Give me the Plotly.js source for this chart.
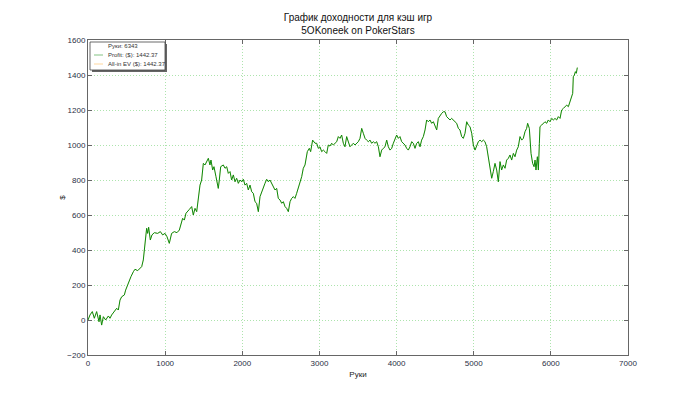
<!DOCTYPE html>
<html>
<head>
<meta charset="utf-8">
<script src="https://cdn.plot.ly/plotly-3.0.1.min.js"></script>
<style>html,body{margin:0;padding:0;background:#fff;}#chart{width:700px;height:395px;}</style>
</head>
<body>
<div id="chart"></div>
<script>
// ---- data ----
var titleLines = ['График доходности для кэш игр', '5OKoneek on PokerStars'];
var xAxisTitle = 'Руки';
var yAxisTitle = '$';
var totalHands = 6343;
var finalProfit = 1442.37;
var finalEV = 1442.37;

var hands = [0,26,56,82,112,143,156,177,199,229,264,285,307,341,372,393,415,437,471,488,514,531,557,588,609,644,674,696,717,730,737,743,760,773,786,808,829,860,903,938,968,998,1024,1054,1084,1119,1153,1184,1206,1227,1249,1270,1314,
1344,1365,1387,1409,1430,1452,1473,1495,1517,1538,1560,1581,1594,1616,1633,1659,1689,1702,1720,1754,1776,1798,1819,1841,1862,1884,1906,1927,1949,1970,1992,2014,2035,2057,2078,2100,2122,2143,2165,2186,2208,2230,2251,2273,2294,2316,2338,2359,2381,2402,2424,2446,2467,2489,2511,2532,2554,2575,2597,2619,2640,2662,2683,2705,2727,2748,2770,2791,2813,
2843,2869,2886,2912,2943,2964,2986,3007,3029,3051,3072,3094,3115,3137,3159,3180,3224,3245,3267,3288,3310,3331,3353,3375,3396,3418,3440,3461,3483,3504,3526,3548,3569,3591,3612,3634,3656,3677,3699,3720,3742,3764,3785,3807,3828,3850,3872,3893,3915,3937,3958,3980,4001,4023,4044,4066,4088,4109,4131,4152,4174,4196,4217,4239,4261,4282,4304,
4325,4347,4369,4390,4412,4433,4455,4477,4498,4520,4541,4563,4585,4606,4628,4649,4671,4693,4714,4736,4757,4779,4801,4822,4844,4865,4887,4909,4930,4952,4974,4995,5017,5038,5060,5082,5103,5125,5146,5168,5190,5211,5233,5254,5276,5298,5319,5341,5362,5384,5406,5427,5449,5470,5492,5514,5535,5557,5578,5600,
5622,5643,5665,5686,5699,5721,5730,5743,5764,5782,5795,5807,5825,5838,5851,5859,5881,5903,5924,5946,5967,5989,6011,6032,6054,6075,6097,6119,6140,6162,6183,6205,6227,6248,6270,6283,6291,6305,6318,6330,6343];

var profit = [0,29,48,10,48,-10,29,-29,19,0,23,10,29,48,67,57,114,133,143,171,200,228,248,276,290,282,295,305,343,410,400,476,524,495,530,457,486,499,495,505,486,495,476,438,495,505,499,514,543,581,571,610,632,
648,600,638,619,705,771,800,895,886,905,924,886,914,857,876,819,752,800,876,886,867,876,838,848,800,829,790,810,781,800,790,804,771,781,743,771,733,724,676,667,619,705,733,762,781,804,790,800,781,762,743,752,695,686,667,676,648,638,619,676,695,705,695,724,752,790,819,867,886,
962,981,962,1028,1010,1010,981,990,962,971,962,952,1000,994,1010,1000,1019,1048,1038,1057,1010,990,1048,1019,990,1000,1010,1000,1010,1019,1038,1095,1067,1038,1028,1019,1028,1010,1019,1010,1019,990,933,971,981,990,1028,990,971,981,1010,1038,1057,1038,1048,1019,1010,1000,981,971,990,1019,1010,981,1010,1019,990,
1028,1048,1086,1143,1133,1143,1124,1133,1105,1086,1152,1171,1181,1190,1190,1162,1152,1143,1152,1143,1133,1124,1095,1086,1048,1038,1067,1133,1114,1105,1067,1000,971,990,1019,1028,1019,1028,1019,990,933,857,810,848,895,857,790,905,857,886,867,914,924,943,914,952,933,971,990,1048,
1028,1038,1076,1095,1124,1095,1048,952,895,876,914,857,933,857,1010,1105,1114,1124,1133,1124,1143,1133,1152,1143,1152,1143,1162,1152,1200,1209,1219,1228,1219,1248,1276,1295,1390,1400,1419,1410,1442.37];

var ev = profit.slice();
var xTicks = [0,1000,2000,3000,4000,5000,6000,7000];
var yTicks = [-200,0,200,400,600,800,1000,1200,1400,1600];

// ---- chart ----
var profitColor = '#0a8a0a';
var evColor = '#ffc878';
var tickColor = '#2a2f45';
var fontFam = 'Liberation Sans, Arial, sans-serif';

var traces = [
  {x: hands, y: ev, type: 'scatter', mode: 'lines', line: {color: evColor, width: 0.4}, hoverinfo: 'skip'},
  {x: hands, y: profit, type: 'scatter', mode: 'lines', line: {color: profitColor, width: 1}, hoverinfo: 'skip'}
];

function px2x(p){ return (p - 88) / 540; }
function py2y(p){ return (355 - p) / 315; }

var legendTexts = ['Руки: ' + totalHands, 'Profit: ($): ' + finalProfit.toFixed(2), 'All-in EV ($): ' + finalEV.toFixed(2)];
var legendRows = [46, 55, 64];

var shapes = [
  {type:'rect', xref:'paper', yref:'paper', x0:px2x(92), x1:px2x(167), y0:py2y(44), y1:py2y(72), fillcolor:'#666', line:{width:0}, layer:'above'},
  {type:'rect', xref:'paper', yref:'paper', x0:px2x(90), x1:px2x(165), y0:py2y(42), y1:py2y(70), fillcolor:'#fff', line:{color:'#444', width:0.8}, layer:'above'},
  {type:'line', xref:'paper', yref:'paper', x0:px2x(94), x1:px2x(103), y0:py2y(legendRows[1]), y1:py2y(legendRows[1]), line:{color:profitColor, width:1}, layer:'above', opacity:0.5},
  {type:'line', xref:'paper', yref:'paper', x0:px2x(94), x1:px2x(103), y0:py2y(legendRows[2]), y1:py2y(legendRows[2]), line:{color:evColor, width:1}, layer:'above', opacity:0.7}
];
var annotations = legendTexts.map(function(t, i){
  return {text: t, xref:'paper', yref:'paper', x: px2x(106), y: py2y(legendRows[i]), xanchor:'left', yanchor:'middle', showarrow:false, font:{family:fontFam, size:6, color:'#333'}};
});

var gridCol = 'rgba(0,170,0,0.32)';
var layout = {
  width: 700, height: 395,
  margin: {l: 88, r: 72, t: 40, b: 40},
  paper_bgcolor: '#fff', plot_bgcolor: '#fff',
  showlegend: false,
  font: {family: fontFam, color: tickColor, size: 9},
  title: {text: titleLines.join('<br>'), x: 0.5, xref: 'paper', xanchor: 'center', y: 0.947, yref: 'container', yanchor: 'top',
          font: {family: fontFam, size: 10, color: '#111'}},
  xaxis: {range: [0, 7000], tickvals: xTicks, ticktext: xTicks.map(String), showgrid: true, gridcolor: gridCol, griddash: '1px,2px', gridwidth: 1,
          zeroline: false, showline: true, mirror: 'ticks', linecolor: '#666', linewidth: 1, ticks: 'inside', ticklen: 4, tickcolor: '#666',
          tickfont: {size: 8, color: tickColor}, title: {text: xAxisTitle, font: {size: 8, color: '#222'}, standoff: 4}},
  yaxis: {range: [-200, 1600], tickvals: yTicks, ticktext: yTicks.map(function(v){return v < 0 ? '\u2212' + Math.abs(v) : String(v);}), showgrid: true, gridcolor: gridCol, griddash: '1px,2px', gridwidth: 1,
          zeroline: false, showline: true, mirror: 'ticks', linecolor: '#666', linewidth: 1, ticks: 'inside', ticklen: 4, tickcolor: '#666',
          tickfont: {size: 8, color: tickColor}, title: {text: yAxisTitle, font: {size: 8, color: '#222'}, standoff: 0}},
  shapes: shapes,
  annotations: annotations
};

Plotly.newPlot('chart', traces, layout, {staticPlot: true, displayModeBar: false});
</script>
</body>
</html>
